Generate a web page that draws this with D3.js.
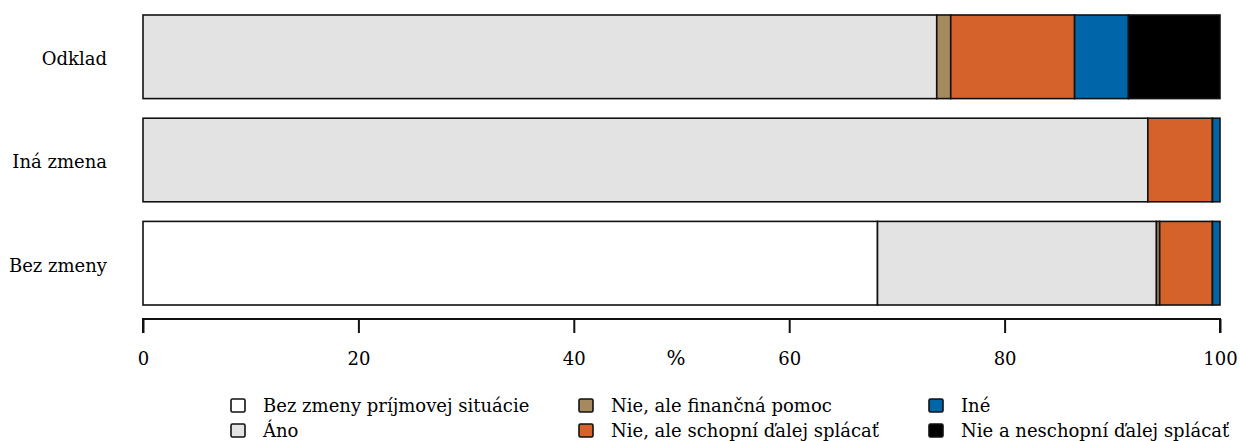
<!DOCTYPE html>
<html><head><meta charset="utf-8">
<script src="https://cdn.jsdelivr.net/npm/d3@7"></script>
<style>body{margin:0;background:#fff}svg{display:block}text{font-family:"DejaVu Serif",serif;fill:#000}</style>
</head><body><svg id="c" width="1240" height="441"></svg>
<script>
const categories = ["Odklad", "Iná zmena", "Bez zmeny"];
const seriesNames = ["Bez zmeny príjmovej situácie", "Áno", "Nie, ale finančná pomoc", "Nie, ale schopní ďalej splácať", "Iné", "Nie a neschopní ďalej splácať"];
const seriesColors = ["#ffffff", "#e3e3e3", "#a58a60", "#d5622b", "#0066aa", "#000000"];
const bezZmenyPrijmovej = [0, 0, 68.2];
const ano = [73.7, 93.3, 25.9];
const financnaPomoc = [1.3, 0, 0.3];
const schopniSplacat = [11.5, 6.0, 4.9];
const ine = [5.0, 0.7, 0.7];
const neschopniSplacat = [8.5, 0, 0];
const xTicks = [0, 20, 40, 60, 80, 100];

const values = [bezZmenyPrijmovej, ano, financnaPomoc, schopniSplacat, ine, neschopniSplacat];
const rows = categories.map((c, i) => {
  const r = {cat: c};
  seriesNames.forEach((s, j) => r[s] = values[j][i]);
  return r;
});
const stacked = d3.stack().keys(seriesNames)(rows);

const svg = d3.select("#c");
const x = d3.scaleLinear().domain([0, 100]).range([143, 1220]);
const y = d3.scaleBand().domain(categories).range([15, 305]).paddingInner(0.19).paddingOuter(0);
const FS = "18px";

const g = svg.append("g");
stacked.forEach((layer, j) => {
  g.selectAll(null).data(layer.filter(d => d[1] - d[0] > 0)).enter().append("rect")
    .attr("x", d => x(d[0])).attr("width", d => x(d[1]) - x(d[0]))
    .attr("y", d => y(d.data.cat)).attr("height", y.bandwidth())
    .attr("fill", seriesColors[j]).attr("stroke", "#111").attr("stroke-width", 1.6);
});

// y labels
svg.selectAll(null).data(categories).enter().append("text")
  .attr("x", 107).attr("y", d => y(d) + y.bandwidth() / 2 + 2).attr("dy", "0.35em")
  .attr("text-anchor", "end").style("font-size", FS).text(d => d);

// x axis
const ax = svg.append("g").attr("transform", "translate(0,319)")
  .call(d3.axisBottom(x).tickValues(xTicks).tickSize(14).tickPadding(19).tickFormat(d3.format("d")));
ax.select(".domain").attr("stroke", "#111").attr("stroke-width", 2).attr("d", `M${x(0)},14V0H${x(100)}V14`);
ax.selectAll(".tick line").attr("stroke", "#111").attr("stroke-width", 2);
ax.selectAll(".tick text").style("font-size", FS).style("font-family", "DejaVu Serif");
svg.append("text").attr("x", 676).attr("y", 365).attr("text-anchor", "middle").style("font-size", "20px").text("%");

// legend
const legPos = [[230, 406], [230, 431], [578, 406], [578, 431], [928, 406], [928, 431]];
seriesNames.forEach((s, j) => {
  const [lx, ly] = legPos[j];
  svg.append("rect").attr("x", lx + 1).attr("y", ly - 7).attr("width", 14).attr("height", 13)
    .attr("fill", seriesColors[j]).attr("stroke", "#111").attr("stroke-width", 1.6).attr("rx", 1.5);
  svg.append("text").attr("x", lx + 33).attr("y", ly).attr("dy", "0.35em").style("font-size", FS).text(s);
});
</script></body></html>
